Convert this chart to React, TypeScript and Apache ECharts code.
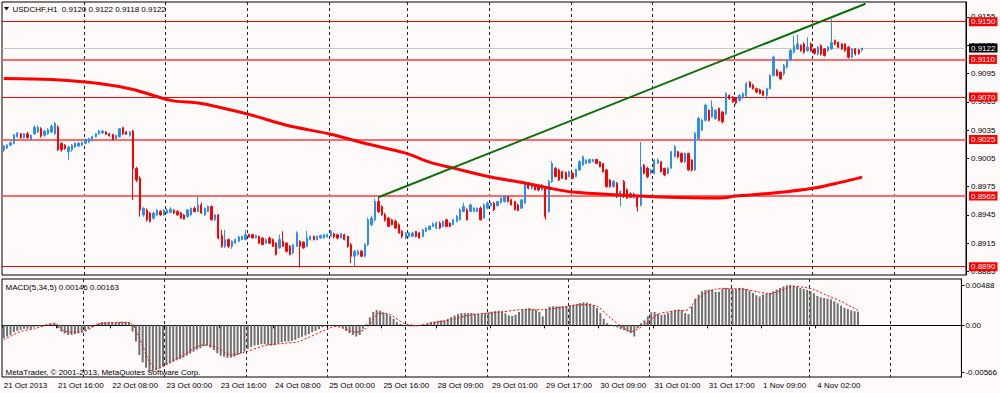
import React, { useEffect, useRef } from 'react';
import * as echarts from 'echarts';

// ---------------- data ----------------
const SLOT_COUNT = 283;

const opens = [
  0.9014, 0.9016, 0.9019, 0.9021, 0.9028, 0.9031, 0.9027, 0.9031, 0.9025, 0.9031,
  0.9033, 0.90365, 0.90295, 0.9031, 0.9033, 0.9031, 0.9038, 0.90207, 0.9019, 0.9012,
  0.9014, 0.9017, 0.9018, 0.9019, 0.9021, 0.90225, 0.9024, 0.9028, 0.9031, 0.9032,
  0.9033, 0.9031, 0.90305, 0.9026, 0.9028, 0.90375, 0.9033, 0.90295, 0.9034, 0.89943,
  0.8984, 0.8945, 0.895, 0.8947, 0.89415, 0.8945, 0.89485, 0.8945, 0.8947, 0.89475,
  0.89496, 0.89485, 0.8947, 0.8945, 0.89433, 0.8945, 0.8952, 0.89485, 0.89556, 0.8945,
  0.89485, 0.8954, 0.894, 0.8945, 0.8923, 0.89116, 0.89187, 0.89116, 0.8915, 0.8917,
  0.89187, 0.89187, 0.8924, 0.8924, 0.89204, 0.89222, 0.89204, 0.8915, 0.89204, 0.89187,
  0.8915, 0.891, 0.8917, 0.8915, 0.89116, 0.89046, 0.89116, 0.8917, 0.8916, 0.89116,
  0.89187, 0.89222, 0.89187, 0.89204, 0.89204, 0.89215, 0.89222, 0.8925, 0.8924, 0.89204,
  0.8924, 0.89222, 0.89134, 0.89011, 0.89028, 0.89064, 0.89011, 0.89134, 0.89345, 0.89398,
  0.89592, 0.89539, 0.89451, 0.89416, 0.89398, 0.8938, 0.89345, 0.89275, 0.89204, 0.89222,
  0.89222, 0.89275, 0.89257, 0.89222, 0.89275, 0.89292, 0.89328, 0.8931, 0.89363, 0.89328,
  0.89398, 0.89363, 0.89345, 0.8938, 0.89398, 0.89486, 0.89504, 0.89486, 0.89486, 0.89486,
  0.89521, 0.89416, 0.89521, 0.89546, 0.89574, 0.89546, 0.89581, 0.89592, 0.89644, 0.89609,
  0.89592, 0.89556, 0.89521, 0.89574, 0.89785, 0.89732, 0.89768, 0.8975, 0.89715, 0.89732,
  0.89486, 0.89803, 0.89944, 0.89926, 0.89908, 0.89898, 0.89856, 0.89891, 0.89856, 0.89926,
  0.89979, 0.89996, 0.90003, 0.90014, 0.90039, 0.90014, 0.89996, 0.89926, 0.8982, 0.8975,
  0.89785, 0.89644, 0.89803, 0.89715, 0.89673, 0.89637, 0.89644, 0.89556, 0.89979, 0.89944,
  0.89891, 0.89891, 0.89997, 0.90014, 0.89944, 0.89891, 0.89944, 0.90067, 0.9012, 0.90102,
  0.90014, 0.90102, 0.90032, 0.89926, 0.90261, 0.90349, 0.90454, 0.9056, 0.9049, 0.90472,
  0.90578, 0.90542, 0.90525, 0.90718, 0.90701, 0.90694, 0.90666, 0.90694, 0.90718, 0.90859,
  0.90824, 0.90789, 0.90778, 0.90764, 0.90718, 0.90789, 0.9093, 0.90982, 0.90965, 0.90947,
  0.91018, 0.91088, 0.91176, 0.91211, 0.91246, 0.91264, 0.91194, 0.91264, 0.91211, 0.91158,
  0.91246, 0.91211, 0.91194, 0.91211, 0.91299, 0.91282, 0.91264, 0.91264, 0.91229, 0.91123,
  0.91211, 0.91201, 0.912,
];

const closes = [
  0.9018, 0.9019, 0.90215, 0.903, 0.9032, 0.9027, 0.9031, 0.9027, 0.90295, 0.9038,
  0.9038, 0.90285, 0.9034, 0.90355, 0.9039, 0.9042, 0.9014, 0.90144, 0.90155, 0.9017,
  0.9019, 0.9021, 0.9021, 0.90215, 0.9025, 0.9026, 0.9028, 0.9031, 0.9034, 0.9034,
  0.90305, 0.9029, 0.9025, 0.90295, 0.90365, 0.9031, 0.90305, 0.9033, 0.89943, 0.8982,
  0.89503, 0.8952, 0.894, 0.8938, 0.8947, 0.895, 0.8945, 0.895, 0.895, 0.8951,
  0.8947, 0.8945, 0.89415, 0.89405, 0.89503, 0.8952, 0.89485, 0.89556, 0.8947, 0.8952,
  0.8954, 0.894, 0.8945, 0.89204, 0.89116, 0.89187, 0.89116, 0.8917, 0.89187, 0.89215,
  0.89222, 0.8924, 0.89215, 0.89204, 0.8923, 0.8915, 0.89134, 0.89187, 0.8915, 0.89116,
  0.8903, 0.89187, 0.89116, 0.89063, 0.8903, 0.89134, 0.89257, 0.89116, 0.891, 0.89204,
  0.89222, 0.89187, 0.89222, 0.8923, 0.8924, 0.8924, 0.89275, 0.89215, 0.89204, 0.8925,
  0.89187, 0.89116, 0.89011, 0.89064, 0.89064, 0.89011, 0.89134, 0.89398, 0.89416, 0.89592,
  0.89486, 0.89451, 0.89398, 0.89328, 0.89345, 0.8931, 0.89257, 0.89222, 0.89257, 0.89257,
  0.89257, 0.89222, 0.89204, 0.89292, 0.8931, 0.89328, 0.89356, 0.89363, 0.8931, 0.8938,
  0.89328, 0.89328, 0.89398, 0.89433, 0.89504, 0.89539, 0.89398, 0.89556, 0.89521, 0.89521,
  0.89398, 0.89556, 0.89574, 0.89574, 0.89504, 0.89592, 0.89627, 0.89651, 0.89592, 0.89556,
  0.89504, 0.89497, 0.89609, 0.89785, 0.89732, 0.89768, 0.89715, 0.89715, 0.89768, 0.89433,
  0.89803, 0.89996, 0.89856, 0.8982, 0.89838, 0.89827, 0.89908, 0.89838, 0.89933, 0.90014,
  0.90067, 0.90032, 0.90039, 0.90039, 0.89996, 0.89961, 0.89908, 0.8975, 0.8975, 0.89803,
  0.89644, 0.89697, 0.89644, 0.89627, 0.89637, 0.89673, 0.89539, 0.89961, 0.89891, 0.89856,
  0.89926, 0.90032, 0.90032, 0.89909, 0.89874, 0.89944, 0.9012, 0.90173, 0.90067, 0.90014,
  0.90102, 0.89926, 0.89926, 0.90314, 0.90472, 0.90454, 0.90613, 0.90454, 0.90595, 0.9056,
  0.90454, 0.90437, 0.90736, 0.90683, 0.90648, 0.90637, 0.90718, 0.90736, 0.90842, 0.90806,
  0.90789, 0.90754, 0.90736, 0.90718, 0.90789, 0.9093, 0.91123, 0.9093, 0.90894, 0.91035,
  0.91088, 0.91194, 0.91246, 0.91264, 0.91194, 0.91176, 0.91229, 0.91194, 0.91165, 0.91229,
  0.91158, 0.91141, 0.91229, 0.91282, 0.91264, 0.91229, 0.91211, 0.91194, 0.91123, 0.91211,
  0.91158, 0.91165, 0.9122,
];

const lows = [
  0.9012, 0.9015, 0.9018, 0.902, 0.9027, 0.9026, 0.9026, 0.9026, 0.9024, 0.903,
  0.9032, 0.9027, 0.9028, 0.903, 0.9032, 0.903, 0.9013, 0.9012, 0.9014, 0.9003,
  0.9012, 0.9016, 0.9017, 0.9018, 0.902, 0.9021, 0.9023, 0.9027, 0.903, 0.9031,
  0.903, 0.9028, 0.9024, 0.9025, 0.9027, 0.903, 0.903, 0.9028, 0.8961, 0.898,
  0.8943, 0.8943, 0.8938, 0.8937, 0.894, 0.8944, 0.8944, 0.8944, 0.8946, 0.8947,
  0.8946, 0.8944, 0.8941, 0.894, 0.8942, 0.8944, 0.8948, 0.8948, 0.8946, 0.8944,
  0.8948, 0.8939, 0.8938, 0.8919, 0.891, 0.891, 0.891, 0.8909, 0.8914, 0.8916,
  0.8918, 0.8918, 0.8921, 0.892, 0.892, 0.8914, 0.8913, 0.8914, 0.8914, 0.8911,
  0.8902, 0.8909, 0.8911, 0.8905, 0.8902, 0.8903, 0.8911, 0.8889, 0.8909, 0.8911,
  0.8918, 0.8918, 0.8918, 0.892, 0.892, 0.8921, 0.8922, 0.892, 0.8919, 0.892,
  0.8918, 0.891, 0.8894, 0.88905, 0.8902, 0.89, 0.89, 0.8912, 0.8933, 0.8938,
  0.8947, 0.8944, 0.8938, 0.8932, 0.8934, 0.893, 0.8925, 0.892, 0.8919, 0.8921,
  0.8922, 0.8921, 0.892, 0.8921, 0.8927, 0.8929, 0.8932, 0.893, 0.893, 0.8932,
  0.8932, 0.8932, 0.8934, 0.8937, 0.8939, 0.8948, 0.8939, 0.8948, 0.8948, 0.8948,
  0.8939, 0.8941, 0.8951, 0.8954, 0.8949, 0.8954, 0.8957, 0.8958, 0.8958, 0.8955,
  0.895, 0.8949, 0.8952, 0.8957, 0.8972, 0.8972, 0.8971, 0.897, 0.8971, 0.894,
  0.8947, 0.8979, 0.8985, 0.8981, 0.8983, 0.8982, 0.8985, 0.8983, 0.8985, 0.8992,
  0.8997, 0.8999, 0.89995, 0.9001, 0.8999, 0.89955, 0.899, 0.8974, 0.8974, 0.8974,
  0.8963, 0.89539, 0.8963, 0.8962, 0.8963, 0.8962, 0.89486, 0.8954, 0.8988, 0.8984,
  0.8988, 0.8988, 0.8999, 0.899, 0.8986, 0.8988, 0.8994, 0.9006, 0.9005, 0.9,
  0.9, 0.8992, 0.8991, 0.8992, 0.9025, 0.9034, 0.9044, 0.9044, 0.9048, 0.9046,
  0.9044, 0.9042, 0.9051, 0.9067, 0.9064, 0.9062, 0.9065, 0.9068, 0.907, 0.908,
  0.9078, 0.9074, 0.9073, 0.9071, 0.90673, 0.9078, 0.9092, 0.9092, 0.9088, 0.9093,
  0.91, 0.9108, 0.9116, 0.912, 0.9118, 0.9116, 0.9118, 0.9118, 0.9115, 0.9114,
  0.9114, 0.9113, 0.9118, 0.912, 0.9125, 0.9122, 0.912, 0.9118, 0.9111, 0.9111,
  0.9114, 0.9115, 0.9118,
];

const highs = [
  0.9019, 0.902, 0.9023, 0.9031, 0.9033, 0.9032, 0.9032, 0.9033, 0.903, 0.904,
  0.904, 0.9038, 0.9035, 0.9037, 0.9041, 0.90436, 0.904, 0.9022, 0.902, 0.9018,
  0.902, 0.9022, 0.9022, 0.9023, 0.9026, 0.9027, 0.9029, 0.9032, 0.9035, 0.9035,
  0.9034, 0.9032, 0.9031, 0.903, 0.9037, 0.90385, 0.9034, 0.9034, 0.9035, 0.8996,
  0.8986, 0.8953, 0.8952, 0.8948, 0.8948, 0.8951, 0.895, 0.8951, 0.8952, 0.8953,
  0.8951, 0.895, 0.8948, 0.8946, 0.8951, 0.8953, 0.8954, 0.89644, 0.8958, 0.8953,
  0.8955, 0.8955, 0.8946, 0.8946, 0.8929, 0.89292, 0.892, 0.8918, 0.892, 0.8923,
  0.8923, 0.89292, 0.8925, 0.8925, 0.8924, 0.8923, 0.8921, 0.892, 0.8922, 0.892,
  0.8916, 0.8924, 0.89275, 0.8916, 0.8913, 0.8914, 0.89275, 0.8918, 0.8917, 0.8928,
  0.8923, 0.8923, 0.8923, 0.8924, 0.8925, 0.8925, 0.8929, 0.8926, 0.8925, 0.8926,
  0.8925, 0.8923, 0.8915, 0.8908, 0.8908, 0.8908, 0.8915, 0.8942, 0.8944, 0.8962,
  0.89637, 0.8955, 0.8947, 0.8943, 0.8941, 0.894, 0.8936, 0.8929, 0.8927, 0.8927,
  0.8927, 0.8928, 0.8927, 0.893, 0.8932, 0.8934, 0.8937, 0.8938, 0.8938, 0.8939,
  0.8941, 0.8937, 0.8941, 0.8945, 0.8952, 0.8958, 0.8952, 0.8957, 0.8953, 0.8953,
  0.8954, 0.8957, 0.8959, 0.8959, 0.8959, 0.896, 0.8964, 0.8966, 0.8965, 0.8962,
  0.896, 0.8957, 0.8962, 0.898, 0.898, 0.8978, 0.8978, 0.8976, 0.8978, 0.8975,
  0.8982, 0.9002, 0.8996, 0.8994, 0.8992, 0.8991, 0.8992, 0.899, 0.8994, 0.9003,
  0.9008, 0.9004, 0.90045, 0.90045, 0.90045, 0.9002, 0.9, 0.8994, 0.8983, 0.8982,
  0.898, 0.8971, 0.8982, 0.8973, 0.8969, 0.8969, 0.8966, 0.90225, 0.8999, 0.8996,
  0.8994, 0.9004, 0.9005, 0.9002, 0.8995, 0.8996, 0.9013, 0.9019, 0.9013, 0.9011,
  0.9011, 0.9011, 0.9004, 0.9033, 0.9049, 0.9047, 0.9063, 0.9057, 0.90666, 0.9057,
  0.9059, 0.9055, 0.9075, 0.9073, 0.9071, 0.907, 0.9073, 0.9075, 0.9086, 0.9087,
  0.9084, 0.908, 0.9079, 0.9077, 0.908, 0.9094, 0.9114, 0.91, 0.9097, 0.9105,
  0.911, 0.9121, 0.91352, 0.91363, 0.9126, 0.91282, 0.91334, 0.9128, 0.9122, 0.9124,
  0.9126, 0.9122, 0.9124, 0.91528, 0.9131, 0.9129, 0.9127, 0.9127, 0.9124, 0.9122,
  0.9122, 0.9121, 0.9122,
];

// moving average (read at sampled bars)
const maBars = [0, 14, 28, 38, 49, 58, 72, 83, 96, 106, 118, 125, 132, 143, 153, 160, 167, 181, 193, 210, 215, 226, 238, 246, 252];
const maValues = [0.90898, 0.90887, 0.90845, 0.90781, 0.90665, 0.90633, 0.90517, 0.90401, 0.90306, 0.9021, 0.90105, 0.9001, 0.89946, 0.89851, 0.89788, 0.89735, 0.89693, 0.89661, 0.8964, 0.89629, 0.8965, 0.89682, 0.89735, 0.89798, 0.89851];

// trend line anchors
const trendBars = [110, 253];
const trendValues = [0.89637, 0.91691];

// horizontal levels
const hLevels = [0.915, 0.911, 0.907, 0.9025, 0.8965, 0.889];
const thickLevels = [0.911, 0.9025, 0.8965];
const bidPrice = 0.9122;

// MACD histogram
const macdMain = [
  -0.00156, -0.00136, -0.00116, -0.00083, -0.00067, -0.00055, -0.00043, -0.00043, -0.00043, -0.00026,
  -0.00014, -0.00014, -0.00002, 0.00006, 0.00018, 0.00026, -0.00035, -0.00075, -0.001, -0.00116,
  -0.00116, -0.00108, -0.00096, -0.00083, -0.00067, -0.00043, -0.00026, -0.00002, 0.00026, 0.00039,
  0.00039, 0.00039, 0.00035, 0.00035, 0.00039, 0.00043, 0.00043, 0.00039, -0.00075, -0.00197,
  -0.0036, -0.00449, -0.00514, -0.00563, -0.00563, -0.00543, -0.00522, -0.00502, -0.00482, -0.00461,
  -0.00441, -0.00425, -0.00409, -0.00392, -0.00368, -0.00343, -0.00319, -0.00295, -0.00278, -0.00254,
  -0.00246, -0.0027, -0.00299, -0.00339, -0.00368, -0.0038, -0.00392, -0.00392, -0.0038, -0.0036,
  -0.00339, -0.00319, -0.00287, -0.00262, -0.00246, -0.00238, -0.0023, -0.0023, -0.00238, -0.00246,
  -0.00238, -0.00217, -0.00205, -0.00197, -0.00197, -0.00189, -0.00177, -0.00156, -0.0014, -0.00124,
  -0.00108, -0.00083, -0.00067, -0.00047, -0.00026, -0.00014, -0.00006, -0.00006, -0.00014, -0.00018,
  -0.00035, -0.00067, -0.00096, -0.00116, -0.00136, -0.00116, -0.00043, 0.00014, 0.00096, 0.00161,
  0.00185, 0.00177, 0.00157, 0.00136, 0.00116, 0.00079, 0.00039, 0.00018, 0.00006, -0.00006,
  -0.00014, -0.00014, -0.00014, -0.00002, 0.00006, 0.00022, 0.00039, 0.00047, 0.00055, 0.00059,
  0.00059, 0.00079, 0.001, 0.0012, 0.00136, 0.00148, 0.00148, 0.00148, 0.00148, 0.0014,
  0.00136, 0.0014, 0.00148, 0.00157, 0.00165, 0.00173, 0.00177, 0.00169, 0.00144, 0.0012,
  0.00112, 0.00128, 0.00161, 0.00193, 0.00201, 0.00209, 0.00197, 0.00189, 0.00161, 0.00108,
  0.00189, 0.00226, 0.0023, 0.0023, 0.0023, 0.0023, 0.00234, 0.00238, 0.0025, 0.00258,
  0.0027, 0.00278, 0.00274, 0.00262, 0.00242, 0.00209, 0.00148, 0.00079, 0.00026, 0.00006,
  -0.00014, -0.00026, -0.00047, -0.00059, -0.00075, -0.00096, -0.00136, -0.00035, 0.00026, 0.00059,
  0.00108, 0.00157, 0.00161, 0.00136, 0.00124, 0.00132, 0.00148, 0.00169, 0.00185, 0.00189,
  0.00185, 0.00148, 0.00136, 0.0023, 0.00323, 0.00372, 0.00413, 0.00429, 0.00433, 0.00433,
  0.00404, 0.00404, 0.00445, 0.00453, 0.00445, 0.00445, 0.00437, 0.00453, 0.00453, 0.00441,
  0.00421, 0.00392, 0.00364, 0.00348, 0.00372, 0.0038, 0.00392, 0.00413, 0.00433, 0.00453,
  0.0047, 0.00486, 0.0049, 0.00482, 0.00465, 0.00453, 0.00441, 0.00429, 0.00413, 0.00388,
  0.00356, 0.00339, 0.00331, 0.00323, 0.00315, 0.00291, 0.00266, 0.00238, 0.00213, 0.00197,
  0.00181, 0.0017, 0.00165,
];

// MACD signal (read at sampled bars)
const signalBars = [0, 5, 9, 15, 18, 23, 28, 37, 40, 43, 45, 48, 53, 59, 63, 67, 71, 77, 83, 87, 96, 98, 104, 107, 111, 114, 118, 122, 126, 132, 138, 146, 153, 159, 165, 171, 175, 179, 183, 185, 189, 193, 196, 199, 201, 204, 207, 210, 214, 219, 223, 226, 231, 233, 236, 239, 243, 247, 250, 252];
const signalValues = [-0.00177, -0.00075, -0.00043, 0.00026, -0.00075, -0.00083, 0.00014, 0.00035, -0.00156, -0.00441, -0.0053, -0.00474, -0.0036, -0.00238, -0.0027, -0.0036, -0.00327, -0.00246, -0.00217, -0.00197, -0.00035, -0.00014, -0.00083, -0.00035, 0.00148, 0.00128, 0.00026, -0.00002, 0.00026, 0.00067, 0.00128, 0.00157, 0.00189, 0.00189, 0.00222, 0.0025, 0.0023, 0.00087, -0.00035, -0.00075, 0.00006, 0.00136, 0.00161, 0.0018, 0.00177, 0.00291, 0.00392, 0.00437, 0.00445, 0.00433, 0.004, 0.00385, 0.0045, 0.0047, 0.00461, 0.00433, 0.0036, 0.0029, 0.00225, 0.0018];

// axis ticks
const priceTicks = [0.8885, 0.8915, 0.8945, 0.8975, 0.9005, 0.9035, 0.9065, 0.9095, 0.9125, 0.9155];
const macdTicks = [0.00488, 0, -0.00566];
const labelBars = [0, 16, 32, 48, 64, 80, 96, 112, 128, 144, 160, 176, 192, 208, 224, 240];
const labelTexts = [
  '21 Oct 2013', '21 Oct 16:00', '22 Oct 08:00', '23 Oct 00:00', '23 Oct 16:00', '24 Oct 08:00',
  '25 Oct 00:00', '25 Oct 16:00', '28 Oct 09:00', '29 Oct 01:00', '29 Oct 17:00', '30 Oct 09:00',
  '31 Oct 01:00', '31 Oct 17:00', '1 Nov 09:00', '4 Nov 02:00',
];
const dayStartBars = [24, 48, 72, 96, 119, 143, 167, 191, 215, 238, 262];

const titleText = 'USDCHF,H1  0.9120 0.9122 0.9118 0.9122';
const macdTitle = 'MACD(5,34,5) 0.00146 0.00163';
const copyright = 'MetaTrader, \u00A9 2001-2013, MetaQuotes Software Corp.';

// ---------------- styles ----------------
const BG = '#fffafa';
const FONT = 'Liberation Sans';
const BLUE = '#2b8ef5';
const RED = '#ff0000';

function buildOption() {
  const categories = Array.from({ length: SLOT_COUNT }, (_, i) => i);
  const candleData = opens.map((o, i) => [o, closes[i], lows[i], highs[i]]);
  const maData = maBars.map((b, i) => [b, maValues[i]]);
  const trendData = trendBars.map((b, i) => [b, trendValues[i]]);
  const signalData = signalBars.map((b, i) => [b, signalValues[i]]);

  const splitFn = (i: number) => dayStartBars.indexOf(i) >= 0;
  const labelFn = (i: number) => labelBars.indexOf(i) >= 0;

  const boxLabel = (text: string, bg: string) => ({
    show: true,
    position: 'end',
    distance: 3,
    formatter: text,
    backgroundColor: bg,
    color: '#ffffff',
    padding: [1, 2, 0, 2],
    lineHeight: 8,
    fontSize: 8,
    fontFamily: FONT,
  });

  const levelLines: any[] = hLevels.map((v) => {
    const thick = thickLevels.indexOf(v) >= 0;
    return {
      yAxis: v,
      lineStyle: { color: thick ? '#ff6a6a' : RED, width: thick ? 2 : 1.2, type: 'solid', opacity: 1 },
      label: boxLabel(v.toFixed(4), RED),
    };
  });
  levelLines.push({
    yAxis: bidPrice,
    lineStyle: { color: '#c8c8c8', width: 1, type: 'solid', opacity: 1 },
    label: boxLabel(bidPrice.toFixed(4), '#000000'),
  });

  const axisText = { color: '#000', fontSize: 8, fontFamily: FONT };
  const gridLine = { show: true, interval: splitFn, lineStyle: { color: '#222', width: 1, type: [3, 3] } };

  return {
    animation: false,
    backgroundColor: BG,
    grid: [
      { left: 2, top: 2, width: 964, height: 273, show: true, backgroundColor: BG, borderColor: '#000', borderWidth: 1 },
      { left: 2, top: 279, width: 964, height: 98, show: true, backgroundColor: BG, borderColor: '#000', borderWidth: 1 },
    ],
    xAxis: [
      {
        type: 'category',
        gridIndex: 0,
        data: categories,
        boundaryGap: true,
        axisLine: { show: false },
        axisTick: { show: false },
        axisLabel: { show: false },
        splitLine: gridLine,
      },
      {
        type: 'category',
        gridIndex: 1,
        data: categories,
        boundaryGap: true,
        axisLine: { show: true, lineStyle: { color: '#000' } },
        axisTick: { show: true, interval: labelFn, length: 3, lineStyle: { color: '#000' } },
        axisLabel: {
          show: true,
          interval: labelFn,
          align: 'left',
          margin: 4,
          ...axisText,
          formatter: (_v: any, idx: number) => {
            const k = labelBars.indexOf(idx);
            return k >= 0 ? labelTexts[k] : '';
          },
        },
        splitLine: gridLine,
      },
    ],
    yAxis: [
      {
        type: 'value',
        gridIndex: 0,
        position: 'right',
        min: 0.88812,
        max: 0.917091,
        axisLine: { show: true, lineStyle: { color: '#000' } },
        axisTick: { show: true, length: 3, customValues: priceTicks, lineStyle: { color: '#000' } },
        axisLabel: { show: true, margin: 5, customValues: priceTicks, ...axisText, formatter: (v: number) => v.toFixed(4) },
        splitLine: { show: false },
      },
      {
        type: 'value',
        gridIndex: 1,
        position: 'right',
        min: -0.006264,
        max: 0.005609,
        axisLine: { show: true, lineStyle: { color: '#000' } },
        axisTick: { show: true, length: 3, customValues: macdTicks, lineStyle: { color: '#000' } },
        axisLabel: {
          show: true,
          margin: 4,
          customValues: macdTicks,
          ...axisText,
          formatter: (v: number) => (Math.abs(v) < 1e-9 ? '0.00' : v.toFixed(5)),
        },
        splitLine: { show: false },
      },
    ],
    graphic: [
      { type: 'polygon', z: 10, shape: { points: [[4, 7], [9, 7], [6.5, 10.5]] }, style: { fill: '#000' } },
      { type: 'text', z: 10, x: 12.5, y: 9, style: { text: titleText, fill: '#000', fontSize: 8, fontFamily: FONT, verticalAlign: 'middle' } },
      { type: 'text', z: 10, x: 5.5, y: 287, style: { text: macdTitle, fill: '#000', fontSize: 8, fontFamily: FONT, verticalAlign: 'middle' } },
      { type: 'text', z: 1, x: 5.5, y: 372, style: { text: copyright, fill: '#000', fontSize: 8, fontFamily: FONT, verticalAlign: 'middle' } },
    ],
    series: [
      {
        type: 'line',
        xAxisIndex: 0,
        yAxisIndex: 0,
        data: trendData,
        showSymbol: false,
        z: 5,
        lineStyle: { color: '#0a6e0a', width: 2 },
        markLine: {
          silent: true,
          precision: 5,
          symbol: ['none', 'none'],
          animation: false,
          z: 2,
          data: levelLines,
        },
      },
      {
        type: 'candlestick',
        xAxisIndex: 0,
        yAxisIndex: 0,
        data: candleData,
        barWidth: 1.8,
        z: 3,
        itemStyle: { color: BLUE, color0: RED, borderColor: BLUE, borderColor0: RED, borderWidth: 1 },
      },
      {
        type: 'line',
        xAxisIndex: 0,
        yAxisIndex: 0,
        data: maData,
        smooth: 0.3,
        showSymbol: false,
        z: 4,
        lineStyle: { color: RED, width: 3 },
      },
      {
        type: 'bar',
        xAxisIndex: 1,
        yAxisIndex: 1,
        data: macdMain,
        barWidth: 2,
        z: 3,
        itemStyle: { color: '#707070' },
      },
      {
        type: 'line',
        xAxisIndex: 1,
        yAxisIndex: 1,
        data: signalData,
        smooth: 0.3,
        showSymbol: false,
        z: 4,
        lineStyle: { color: RED, width: 1, type: [2, 2] },
      },
    ],
  };
}

export default function App() {
  const ref = useRef<HTMLDivElement>(null);
  useEffect(() => {
    if (!ref.current) return;
    const chart = echarts.init(ref.current, null, { renderer: 'svg' });
    chart.setOption(buildOption() as any);
    return () => chart.dispose();
  }, []);
  return (
    <div
      ref={ref}
      style={{ position: 'absolute', left: 0, top: 0, width: 1000, height: 393, background: BG }}
    />
  );
}
